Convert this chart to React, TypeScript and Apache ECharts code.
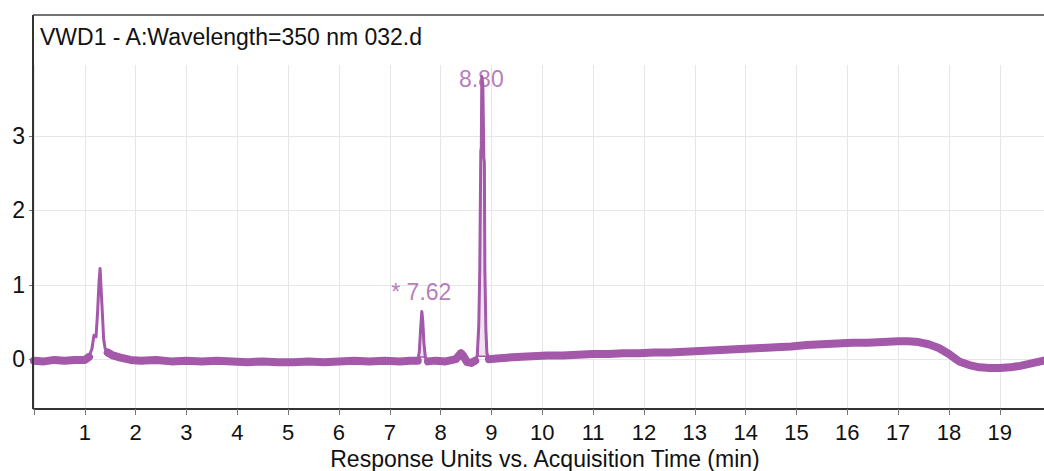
import React, { useEffect, useRef } from "react";
import * as echarts from "echarts";

const chartTitle = "VWD1 - A:Wavelength=350 nm 032.d";
const xAxisName = "Response Units vs. Acquisition Time (min)";
const xTickValues = [0, 1, 2, 3, 4, 5, 6, 7, 8, 9, 10, 11, 12, 13, 14, 15, 16, 17, 18, 19];
const xLabelValues = [1, 2, 3, 4, 5, 6, 7, 8, 9, 10, 11, 12, 13, 14, 15, 16, 17, 18, 19];
const yTickValues = [0, 1, 2, 3];
const xRange = [0, 19.87];
const yRange = [-0.67, 3.954];

// acquisition time (min)
const traceTime = [
  0.0, 0.2, 0.4, 0.6, 0.8, 1.0, 1.08, 1.14, 1.18, 1.22, 1.25, 1.28, 1.3, 1.32, 1.35, 1.37, 1.4, 1.45,
  1.55, 1.7, 1.9, 2.1, 2.4, 2.7, 3.0, 3.3, 3.6, 3.9, 4.2, 4.5, 4.8, 5.1, 5.4, 5.7, 6.0, 6.3, 6.6, 6.9,
  7.2, 7.4, 7.55, 7.58, 7.61, 7.63, 7.65, 7.67, 7.7, 7.75, 7.9, 8.1, 8.3, 8.4, 8.45, 8.52, 8.6, 8.68,
  8.72, 8.75, 8.77, 8.79, 8.8, 8.81, 8.83, 8.85, 8.86, 8.87, 8.89, 8.91, 8.95, 9.1, 9.3, 9.5, 9.8,
  10.1, 10.4, 10.7, 11.0, 11.3, 11.6, 11.9, 12.2, 12.5, 12.8, 13.1, 13.4, 13.7, 14.0, 14.3, 14.6,
  14.9, 15.2, 15.5, 15.8, 16.1, 16.4, 16.7, 17.0, 17.2, 17.4, 17.6, 17.8, 18.0, 18.1, 18.2, 18.4,
  18.6, 18.8, 19.0, 19.2, 19.4, 19.6, 19.8, 19.87,
];
// response units
const traceSignal = [
  -0.02, -0.03, -0.01, -0.02, -0.01, -0.01, 0.03, 0.14, 0.32, 0.3, 0.62, 1.05, 1.22, 0.95, 0.55, 0.27,
  0.14, 0.09, 0.05, 0.02, -0.01, -0.02, -0.01, -0.03, -0.02, -0.03, -0.02, -0.03, -0.04, -0.03, -0.04,
  -0.04, -0.03, -0.04, -0.03, -0.02, -0.03, -0.02, -0.03, -0.02, -0.02, 0.1, 0.45, 0.64, 0.5, 0.22,
  0.02, -0.03, -0.02, -0.03, 0.0, 0.08, 0.04, -0.04, -0.05, -0.02, 0.05, 0.45, 1.2, 2.8, 2.85, 3.8,
  3.7, 2.7, 2.65, 1.2, 0.4, 0.08, 0.0, 0.01, 0.02, 0.03, 0.04, 0.05, 0.05, 0.06, 0.07, 0.07, 0.08,
  0.08, 0.09, 0.09, 0.1, 0.11, 0.12, 0.13, 0.14, 0.15, 0.16, 0.17, 0.19, 0.2, 0.21, 0.22, 0.22, 0.23,
  0.24, 0.24, 0.23, 0.2, 0.15, 0.07, 0.02, -0.03, -0.08, -0.11, -0.12, -0.12, -0.11, -0.09, -0.06,
  -0.03, -0.02,
];

// sharp sections of the trace (drawn with a thin line)
const sharpWindows = [
  [1.08, 1.45],
  [7.55, 7.75],
  [8.68, 8.95],
];
// integrated peaks
const integStart = [7.57, 8.73];
const integEnd = [7.71, 8.92];
const integBase = [0.03, 0.04];
const peakLabelTimes = [7.62, 8.8];
const peakLabelTexts = ["* 7.62", "8.80"];

const PURPLE = "#a358a9";
const FONT = "'Liberation Sans', Arial, sans-serif";

export default function App() {
  const ref = useRef<HTMLDivElement>(null);

  useEffect(() => {
    if (!ref.current) return;
    const chart = echarts.init(ref.current, undefined, { renderer: "svg" });

    const points = traceTime.map((t, i) => [t, traceSignal[i]]);
    const inside = (t: number) => sharpWindows.some(([a, b]) => t > a && t < b);
    const thickData = points.map((p) => (inside(p[0]) ? [p[0], null] : p));
    const thinSeries = sharpWindows.map(([a, b]) => ({
      type: "line",
      data: points.filter((p) => p[0] >= a && p[0] <= b),
      showSymbol: false,
      lineStyle: { color: PURPLE, width: 3, join: "round" },
      z: 4,
      silent: true,
    }));

    const fillSeries: any[] = [];
    integStart.forEach((s, i) => {
      const e = integEnd[i];
      const base = integBase[i];
      const inner = points.filter((p) => p[0] > s && p[0] < e);
      fillSeries.push({
        type: "line",
        data: [[s, base], ...inner, [e, base]],
        showSymbol: false,
        lineStyle: { color: PURPLE, width: 1.5 },
        areaStyle: { color: "rgba(165,90,170,0.25)", origin: base },
        z: 2,
        silent: true,
      });
      fillSeries.push({
        type: "line",
        data: [
          [s, base],
          [e, base],
        ],
        showSymbol: false,
        lineStyle: { color: PURPLE, width: 1.5 },
        z: 2,
        silent: true,
      });
    });

    const labelData = peakLabelTimes.map((t, i) => {
      const near = points.filter((p) => Math.abs(p[0] - t) < 0.06);
      const apex = Math.max(...near.map((p) => p[1] as number));
      return { value: [t, Math.min(apex + 0.26, 3.76)], name: peakLabelTexts[i] };
    });

    chart.setOption({
      animation: false,
      backgroundColor: "#ffffff",
      title: {
        text: chartTitle,
        left: 35,
        top: 20,
        textStyle: { fontFamily: FONT, fontSize: 23, fontWeight: "normal", color: "#111" },
      },
      grid: {
        left: 34,
        right: 0,
        top: 65,
        bottom: 62,
        containLabel: false,
        outerBoundsMode: "none",
      },
      xAxis: {
        type: "value",
        min: xRange[0],
        max: xRange[1],
        interval: 1,
        name: xAxisName,
        nameLocation: "middle",
        nameGap: 37,
        nameTextStyle: { fontFamily: FONT, fontSize: 23, color: "#111", padding: [0, 0, 0, 12] },
        axisLine: { show: true, onZero: false, lineStyle: { color: "#333", width: 2 } },
        axisTick: { show: true, length: 6, customValues: xTickValues, lineStyle: { color: "#777", width: 1 } },
        axisLabel: {
          customValues: xLabelValues,
          margin: 12,
          fontFamily: FONT,
          fontSize: 22,
          color: "#111",
        },
        splitLine: { show: true, lineStyle: { color: "#e6e6e6", width: 1 } },
      },
      yAxis: {
        type: "value",
        min: yRange[0],
        max: yRange[1],
        axisLine: { show: false },
        axisTick: { show: true, length: 5, customValues: yTickValues, lineStyle: { color: "#777", width: 1 } },
        axisLabel: {
          customValues: yTickValues,
          margin: 9,
          fontFamily: FONT,
          fontSize: 23,
          color: "#111",
        },
        splitLine: { show: true, lineStyle: { color: "#e6e6e6", width: 1 } },
      },
      graphic: [
        {
          type: "line",
          shape: { x1: 33, y1: 15, x2: 33, y2: 409 },
          style: { stroke: "#333", lineWidth: 2 },
          z: 100,
        },
        {
          type: "line",
          shape: { x1: 33, y1: 15, x2: 1044, y2: 15 },
          style: { stroke: "#444", lineWidth: 1.5 },
          z: 100,
        },
      ],
      series: [
        ...fillSeries,
        {
          type: "line",
          data: thickData,
          showSymbol: false,
          connectNulls: false,
          lineStyle: { color: PURPLE, width: 8, join: "round", cap: "round" },
          z: 3,
          silent: true,
        },
        ...thinSeries,
        {
          type: "scatter",
          data: labelData,
          symbolSize: 0,
          z: 6,
          silent: true,
          label: {
            show: true,
            position: "inside",
            formatter: (p: any) => p.name,
            fontFamily: FONT,
            fontSize: 23,
            color: "#a459ad",
          },
        },
      ],
    });

    return () => chart.dispose();
  }, []);

  return (
    <div
      ref={ref}
      style={{ position: "absolute", left: 0, top: 0, width: 1044, height: 471 }}
    />
  );
}
